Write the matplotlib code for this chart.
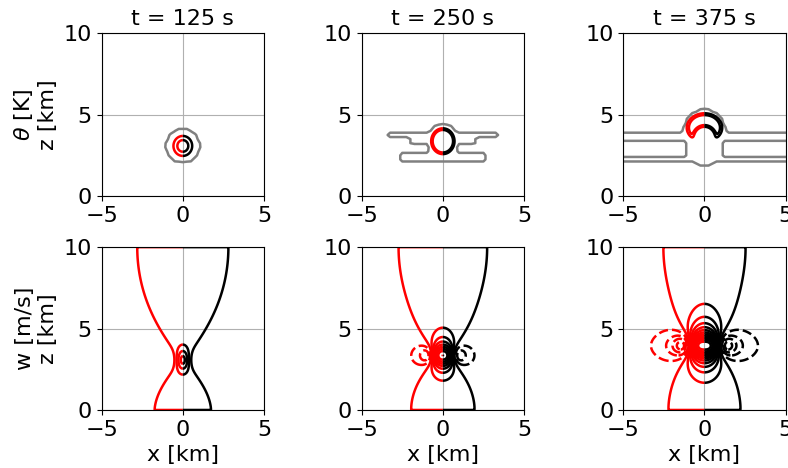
import numpy as np
import matplotlib
matplotlib.use("Agg")
import matplotlib.pyplot as plt

times = [125, 250, 375]

# warm bubble theta' (red/black): centre height and half widths [km]
theta_zc = [3.08, 3.37, 4.2]
theta_rx = [0.49, 0.69, 1.05]
theta_rz = [0.52, 0.76, 0.85]
theta_sharp = [2, 8, 8]
# cold cavity under the rolled-up cap (only at t = 375 s)
cavity_zc = [None, None, 3.62]
cavity_r = [None, None, 0.74]
theta_levels = [0.5, 1.25]

# grey contour (coarse model): blobs (xc, zc, rx, rz) and layers (z_bot, z_top, half length)
gray_blobs = [
    [(0.0, 3.08, 1.04, 1.04)],
    [(0.0, 3.3, 0.95, 1.16)],
    [(0.0, 3.94, 1.3, 1.38)],
]
gray_bands = [
    [],
    [(3.64, 3.94, 3.45), (3.23, 3.94, 2.0), (2.1, 2.7, 2.6)],
    [(3.44, 3.94, 6.0), (2.45, 3.44, 1.09), (2.1, 2.45, 6.0), (1.9, 2.1, 0.5)],
]

# vortex pair for w: centre height, half separation, circulation, core radius
vortex_zc = [3.07, 3.35, 3.95]
vortex_a = [0.3, 0.6, 0.85]
vortex_gam = [9.0, 17.0, 30.0]
vortex_core = [0.4, 0.4, 0.5]
# horizontal squeeze of the flow near the bubble and far from it
squeeze_near = [1.22, 1.0, 0.88]
squeeze_far = 1.22
w_levels = np.arange(-6.0, 60.5, 1.0)
H = 10.0
z_power = 0.85


def w_field(X, Z, i):
    zc, a, gam, core = vortex_zc[i], vortex_a[i], vortex_gam[i], vortex_core[i]
    sn = squeeze_near[i]
    s = squeeze_far + (sn - squeeze_far) * np.exp(-((Z - zc) / 2.5) ** 2)
    Zm = H * (Z / H) ** z_power
    zeta = s * X + 1j * Zm
    zcm = H * (zc / H) ** z_power
    k = np.pi / (2 * H)
    dW = np.zeros_like(zeta)
    for x0, g in ((-a, gam), (a, -gam)):
        z0 = sn * x0 + 1j * zcm
        r2 = np.abs(zeta - z0) ** 2
        with np.errstate(all="ignore"):
            direct = (1 - np.exp(-r2 / (sn * core) ** 2)) / np.tanh(k * (zeta - z0))
        direct = np.where(r2 > 1e-12, direct, 0)
        image = 1 / np.tanh(k * (zeta - np.conj(z0)))
        dW += -(1j * g / (2 * np.pi)) * k * (direct - image)
    w = -dW.imag
    w[0, :] = 0.0
    w[-1, :] = 0.0
    return w


def theta_field(X, Z, i):
    rho = np.sqrt((X / theta_rx[i]) ** 2 + ((Z - theta_zc[i]) / theta_rz[i]) ** 2)
    th = 2.0 * np.exp(-rho ** theta_sharp[i])
    if cavity_zc[i] is not None:
        rc = np.sqrt(X ** 2 + (Z - cavity_zc[i]) ** 2) / cavity_r[i]
        th = th * (1 - np.exp(-rc ** 8))
    return th


def gray_field(X, Z, i):
    g = np.full(X.shape, -1.0)
    for xc, zc, rx, rz in gray_blobs[i]:
        rho = np.sqrt(((X - xc) / rx) ** 2 + ((Z - zc) / rz) ** 2)
        g = np.maximum(g, (1 - rho) * min(rx, rz))
    for zb, zt, hl in gray_bands[i]:
        d = np.minimum((zt - zb) / 2 - np.abs(Z - (zb + zt) / 2), hl - np.abs(X))
        g = np.maximum(g, d)
    return np.clip(g / 0.08, -1, 1)


def split_contour(ax, X, Z, F, levels, lw=1.8):
    mid = X.shape[1] // 2
    ax.contour(X[:, :mid + 1], Z[:, :mid + 1], F[:, :mid + 1], levels=levels,
               colors="red", linewidths=lw, negative_linestyles="dashed")
    ax.contour(X[:, mid:], Z[:, mid:], F[:, mid:], levels=levels,
               colors="black", linewidths=lw, negative_linestyles="dashed")


x = np.linspace(-5, 5, 401)
z = np.linspace(0, 10, 401)
X, Z = np.meshgrid(x, z)
xg = np.arange(-5.25, 5.26, 0.25)
zg = np.arange(-0.25, 10.26, 0.25)
XG, ZG = np.meshgrid(xg, zg)

plt.rcParams["font.size"] = 16
fig = plt.figure(figsize=(7.88, 4.68), dpi=100)
lefts = [0.129, 0.459, 0.791]
bottoms = [0.581, 0.124]
w_ax = 0.206
h_ax = 0.348

for i, t in enumerate(times):
    ax1 = fig.add_axes([lefts[i], bottoms[0], w_ax, h_ax])
    ax2 = fig.add_axes([lefts[i], bottoms[1], w_ax, h_ax])

    ax1.contour(XG, ZG, gray_field(XG, ZG, i), levels=[0.0], colors="gray",
                linewidths=1.8)
    split_contour(ax1, X, Z, theta_field(X, Z, i), theta_levels)
    split_contour(ax2, X, Z, w_field(X, Z, i), w_levels)

    ax1.set_title(f"t = {t} s", fontsize=16)
    ax2.set_xlabel("x [km]")
    for ax in (ax1, ax2):
        ax.set_xlim(-5, 5)
        ax.set_ylim(0, 10)
        ax.set_xticks([-5, 0, 5])
        ax.set_yticks([0, 5, 10])
        ax.grid(True, color="#b0b0b0", linewidth=0.8)
        ax.set_axisbelow(True)
    if i == 0:
        ax1.set_ylabel("$\\theta$ [K]\nz [km]")
        ax2.set_ylabel("w [m/s]\nz [km]")

fig.savefig("out.png", dpi=100)
